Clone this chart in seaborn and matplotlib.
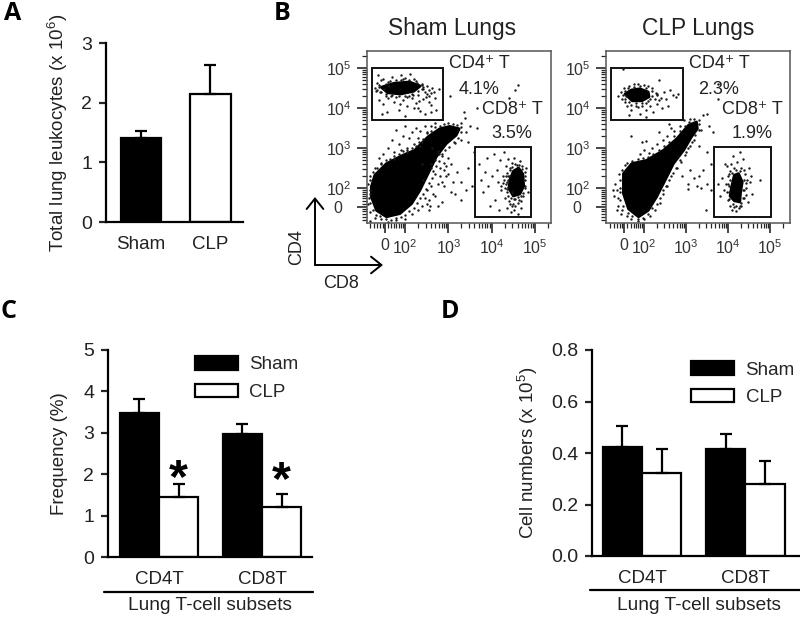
import numpy as np
import pandas as pd
import matplotlib
matplotlib.use("Agg")
import matplotlib.pyplot as plt
from matplotlib.lines import Line2D
from matplotlib.patches import Rectangle, FancyArrowPatch
import seaborn as sns

W, H = 800, 617

# panel A
total_groups = ["Sham", "CLP"]
total_vals = [1.40, 2.14]
total_errs = [0.12, 0.49]

# panels C and D
subsets = ["CD4T", "CD8T"]
freq_sham = [3.47, 2.96]
freq_clp = [1.45, 1.21]
freq_sham_err = [0.34, 0.25]
freq_clp_err = [0.32, 0.32]
star_y = [1.87, 1.82]
num_sham = [0.425, 0.416]
num_clp = [0.321, 0.280]
num_sham_err = [0.081, 0.056]
num_clp_err = [0.095, 0.090]

# flow plots, everything in decades (2 = 10^2 etc)
sham_main_shape = [(1.22, 2.03), (1.30, 2.32), (1.57, 2.61), (1.95, 2.82), (2.22, 2.94), (2.53, 3.28), (2.80, 3.48),
                   (3.03, 3.54), (3.25, 3.48), (3.18, 3.32), (2.95, 3.11), (2.72, 2.78), (2.53, 2.36), (2.34, 1.94),
                   (2.15, 1.61), (1.88, 1.36), (1.57, 1.28), (1.34, 1.44), (1.22, 1.78)]
sham_cd4_shape = [(1.45, 4.52), (1.75, 4.62), (2.1, 4.65), (2.35, 4.55), (2.2, 4.42), (1.9, 4.35), (1.6, 4.38)]
sham_cd8_shape = [(4.42, 2.2), (4.5, 2.42), (4.62, 2.5), (4.72, 2.35), (4.74, 2.05), (4.65, 1.85), (4.5, 1.8), (4.4, 1.98)]
sham_cd4_dots = [(1.3, 4.5), (1.35, 4.62), (1.42, 4.4), (1.5, 4.72), (1.55, 4.3), (1.62, 4.55), (1.7, 4.78), (1.8, 4.28),
                 (1.9, 4.7), (2.0, 4.76), (2.1, 4.3), (2.2, 4.72), (2.3, 4.33), (2.4, 4.6), (2.45, 4.4), (2.5, 4.55),
                 (2.55, 4.3), (2.62, 4.5), (2.7, 4.25), (2.78, 4.48), (1.4, 4.2), (1.5, 4.1), (1.6, 4.25), (1.75, 4.15),
                 (1.85, 3.95), (1.95, 4.2), (2.05, 4.05), (2.15, 4.25), (2.25, 4.12), (2.35, 3.92), (2.42, 4.22),
                 (2.5, 4.35), (2.6, 4.08), (1.38, 4.82), (1.47, 3.85), (1.58, 3.9), (1.9, 4.82), (2.0, 3.8), (2.12, 4.85),
                 (2.3, 4.0), (2.45, 3.85), (2.55, 4.15), (2.72, 3.95), (1.45, 4.7), (1.6, 4.65), (1.88, 4.1), (2.2, 4.0),
                 (2.32, 4.18), (2.6, 3.9), (2.38, 4.48), (2.28, 4.62), (1.33, 4.42), (1.68, 4.3), (2.05, 4.28),
                 (2.18, 4.33), (2.48, 4.27), (1.52, 4.48), (1.4, 4.58), (2.42, 4.52), (2.67, 4.4),
                 (1.35, 4.45), (1.4, 4.52), (1.45, 4.4), (1.55, 4.6), (1.65, 4.68), (1.8, 4.7), (1.95, 4.72), (2.1, 4.7),
                 (2.25, 4.68), (2.38, 4.58), (2.42, 4.48), (2.3, 4.42), (2.15, 4.35), (2.0, 4.3), (1.85, 4.3), (1.7, 4.33),
                 (1.55, 4.35), (2.55, 4.45), (2.6, 4.38)]
sham_cd8_dots = [(3.7, 2.6), (3.75, 2.2), (3.8, 1.9), (3.85, 2.4), (3.9, 2.75), (3.92, 2.05), (3.97, 1.55), (4.0, 2.3),
                 (4.05, 2.85), (4.08, 1.7), (4.12, 2.45), (4.15, 2.15), (4.18, 1.45), (4.2, 2.7), (4.22, 1.95), (4.25, 2.3),
                 (4.28, 2.9), (4.3, 1.75), (4.32, 2.55), (4.33, 2.1), (4.35, 1.5), (4.37, 2.2), (4.38, 2.72), (4.4, 1.68),
                 (4.42, 2.5), (4.44, 1.4), (4.46, 1.9), (4.48, 2.62), (4.5, 1.6), (4.52, 2.75), (4.55, 1.72), (4.58, 2.58),
                 (4.6, 1.35), (4.62, 1.7), (4.65, 2.68), (4.68, 1.5), (4.7, 2.55), (4.72, 1.8), (4.76, 2.3), (4.78, 2.0),
                 (4.8, 2.5), (4.83, 1.9), (4.32, 2.3), (4.3, 2.0), (4.36, 1.9), (4.35, 2.38), (4.4, 2.3), (4.38, 2.02),
                 (4.36, 2.15), (4.38, 2.3), (4.42, 2.45), (4.47, 2.52), (4.55, 2.6), (4.62, 2.58), (4.7, 2.48), (4.76, 2.4),
                 (4.78, 2.2), (4.78, 2.05), (4.72, 1.88), (4.68, 1.8), (4.6, 1.78), (4.52, 1.72), (4.45, 1.75), (4.38, 1.8),
                 (4.35, 1.98), (4.28, 2.2), (4.25, 2.12), (4.22, 2.05), (4.6, 1.62), (4.55, 1.55), (4.48, 1.55), (4.52, 1.45),
                 (4.68, 1.68), (4.42, 1.6)]
sham_main_dots = [(1.6, 3.0), (1.7, 3.2), (1.75, 2.9), (1.8, 3.45), (1.85, 3.1), (1.9, 2.95), (1.95, 3.3), (2.0, 3.55),
                  (2.05, 3.0), (2.1, 3.25), (2.15, 3.4), (2.2, 3.1), (2.25, 3.5), (2.3, 3.25), (2.35, 3.42), (2.4, 3.15),
                  (2.45, 3.55), (2.5, 3.4), (2.6, 3.55), (2.7, 3.62), (1.4, 2.75), (1.5, 2.85), (1.3, 2.5), (1.2, 2.3),
                  (1.45, 2.62), (1.75, 2.72), (2.05, 2.9), (2.35, 3.05), (2.62, 3.0), (2.75, 2.92), (2.85, 2.8), (2.9, 2.62),
                  (2.8, 2.5), (2.7, 2.35), (2.95, 2.3), (3.05, 2.6), (3.2, 2.4), (3.3, 2.15), (3.4, 1.95), (2.6, 2.05),
                  (2.75, 2.1), (2.9, 2.05), (3.05, 1.9), (3.15, 1.85), (3.3, 1.7), (2.45, 1.75), (2.55, 1.7), (2.7, 1.8),
                  (2.85, 1.65), (2.4, 1.55), (2.6, 2.5), (2.7, 2.7), (2.3, 1.45), (2.15, 1.35), (2.0, 1.22), (1.8, 1.2),
                  (1.6, 1.15), (1.45, 1.22), (1.3, 1.25), (1.2, 1.4), (1.15, 1.6), (1.18, 1.85), (1.15, 2.1), (1.2, 1.18),
                  (3.15, 3.12), (3.3, 3.2), (3.4, 3.4), (3.5, 3.55), (3.65, 3.5), (3.3, 3.62), (3.38, 3.75), (3.45, 3.15),
                  (3.03, 4.3), (3.65, 4.0), (4.4, 4.25), (4.6, 4.57), (4.55, 4.45), (3.35, 3.9), (3.6, 2.9), (3.55, 2.05),
                  (3.45, 2.5), (3.0, 2.75), (3.1, 2.15), (2.55, 1.45), (2.9, 2.45), (2.4, 2.6), (2.42, 2.2), (2.5, 1.95),
                  (1.2, 2.2), (1.25, 2.4), (1.35, 2.5), (1.45, 2.6), (1.55, 2.7), (1.65, 2.72), (1.75, 2.8), (1.85, 2.85),
                  (1.95, 2.92), (2.05, 2.95), (2.15, 3.0), (2.25, 3.05), (2.32, 3.15), (2.42, 3.22), (2.5, 3.38), (2.6, 3.42),
                  (2.7, 3.52), (2.8, 3.56), (2.9, 3.6), (3.0, 3.62), (3.1, 3.6), (3.2, 3.58), (3.28, 3.52), (3.3, 3.4),
                  (3.22, 3.25), (3.12, 3.15), (3.02, 3.02), (2.92, 2.95), (2.85, 2.85), (2.78, 2.68), (2.72, 2.55),
                  (2.65, 2.42), (2.62, 2.25), (2.55, 2.12), (2.48, 1.98), (2.42, 1.85), (2.35, 1.75), (2.28, 1.62),
                  (2.2, 1.5), (2.1, 1.42), (2.0, 1.32), (1.9, 1.27), (1.78, 1.24), (1.68, 1.2), (1.55, 1.22), (1.42, 1.3),
                  (1.33, 1.33), (1.25, 1.45), (1.2, 1.62), (1.17, 1.75), (1.2, 1.95), (2.6, 2.6), (2.8, 2.3), (2.85, 2.15),
                  (2.5, 1.6), (2.65, 1.85), (2.58, 1.55), (2.75, 1.55), (2.95, 2.55), (3.0, 2.35), (2.78, 2.85)]

clp_main_shape = [(1.51, 2.36), (1.71, 2.61), (2.06, 2.69), (2.46, 2.94), (2.78, 3.23), (3.06, 3.57), (3.25, 3.65),
                  (3.27, 3.48), (3.13, 3.28), (2.94, 2.94), (2.70, 2.61), (2.5, 2.19), (2.30, 1.78), (2.10, 1.44),
                  (1.87, 1.28), (1.63, 1.48), (1.51, 1.86)]
clp_cd4_shape = [(1.55, 4.35), (1.7, 4.45), (1.9, 4.48), (2.1, 4.4), (2.12, 4.28), (1.95, 4.18), (1.72, 4.18)]
clp_cd8_shape = [(4.08, 2.0), (4.15, 2.32), (4.25, 2.36), (4.34, 2.15), (4.3, 1.9), (4.28, 1.65), (4.15, 1.68), (4.05, 1.8)]
clp_cd4_dots = [(1.45, 4.4), (1.48, 4.22), (1.52, 4.5), (1.55, 4.15), (1.6, 4.05), (1.65, 4.55), (1.7, 3.95), (1.75, 4.6),
                (1.8, 4.05), (1.85, 4.6), (1.9, 3.85), (1.95, 4.05), (2.0, 4.58), (2.05, 3.95), (2.1, 4.55), (2.15, 4.05),
                (2.2, 4.5), (2.22, 3.9), (2.28, 4.38), (2.3, 4.1), (2.35, 4.7), (2.4, 4.25), (2.42, 4.0), (2.48, 4.4),
                (2.52, 4.22), (2.58, 4.05), (2.62, 4.45), (2.68, 4.32), (2.75, 4.28), (2.82, 4.35), (1.65, 3.82), (1.38, 4.3),
                (1.5, 4.97), (2.05, 3.78), (2.25, 4.22), (2.15, 4.22), (1.58, 4.3), (2.3, 4.35),
                (1.5, 4.32), (1.55, 4.42), (1.62, 4.5), (1.75, 4.52), (1.9, 4.54), (2.05, 4.5), (2.18, 4.42), (2.2, 4.3),
                (2.1, 4.18), (1.95, 4.12), (1.8, 4.12), (1.65, 4.15), (1.55, 4.22), (2.3, 4.32), (2.35, 4.2), (1.7, 4.08),
                (1.85, 4.02), (2.05, 4.12)]
clp_cd8_dots = [(3.75, 2.1), (3.8, 1.8), (3.85, 2.25), (3.9, 1.95), (3.92, 2.6), (3.97, 2.55), (4.0, 1.7), (4.0, 2.1),
                (4.03, 2.35), (4.05, 1.55), (4.08, 2.6), (4.1, 1.45), (4.12, 2.8), (4.15, 2.5), (4.18, 1.42), (4.22, 2.65),
                (4.25, 1.5), (4.28, 2.9), (4.3, 2.5), (4.32, 1.55), (4.35, 2.72), (4.38, 1.75), (4.4, 2.35), (4.42, 2.0),
                (4.45, 2.2), (4.48, 1.65), (4.5, 2.5), (4.52, 2.15), (4.55, 2.3), (4.58, 1.85), (4.75, 2.2), (4.02, 1.9),
                (4.38, 2.45), (4.0, 2.3), (4.36, 1.95), (4.05, 2.42),
                (4.02, 2.05), (4.05, 2.2), (4.1, 2.38), (4.18, 2.45), (4.28, 2.42), (4.38, 2.2), (4.42, 2.12), (4.38, 1.95),
                (4.35, 1.75), (4.3, 1.62), (4.2, 1.55), (4.12, 1.6), (4.02, 1.72), (3.98, 1.9), (4.15, 1.52), (4.28, 1.55),
                (4.42, 1.82), (3.95, 2.1)]
clp_main_dots = [(1.9, 2.85), (2.0, 2.95), (2.05, 3.18), (1.95, 3.15), (2.12, 2.88), (2.2, 3.0), (2.3, 3.1), (2.45, 3.2),
                 (2.55, 3.3), (2.65, 3.5), (2.35, 3.4), (2.6, 3.6), (2.72, 3.42), (2.85, 3.55), (2.95, 3.7), (3.1, 3.72),
                 (1.4, 2.35), (1.32, 2.1), (1.28, 1.8), (1.38, 1.55), (1.45, 1.35), (1.42, 2.0), (1.35, 1.45), (1.25, 1.95),
                 (1.55, 2.58), (1.6, 1.3), (1.7, 1.22), (1.85, 1.18), (2.0, 1.22), (2.15, 1.3), (2.25, 1.45), (2.38, 1.62),
                 (2.45, 1.85), (2.55, 2.05), (2.65, 2.3), (2.75, 2.5), (2.85, 2.7), (3.0, 2.9), (3.1, 3.05), (3.2, 3.2),
                 (3.35, 3.45), (3.3, 3.7), (3.4, 3.82), (3.5, 3.85), (3.55, 3.55), (3.65, 3.4), (3.3, 3.05), (3.5, 2.9),
                 (3.6, 2.6), (3.1, 2.45), (3.3, 2.3), (3.2, 2.25), (3.05, 2.1), (3.4, 2.45), (3.25, 2.05), (3.35, 2.0),
                 (3.05, 1.98), (3.5, 2.1), (3.6, 1.95), (3.48, 1.45), (3.75, 4.22), (3.75, 4.6), (1.7, 3.3), (2.9, 2.3),
                 (1.42, 2.2), (1.48, 2.45), (1.6, 2.62), (1.72, 2.68), (1.85, 2.72), (1.98, 2.75), (2.1, 2.78), (2.22, 2.85),
                 (2.35, 2.95), (2.48, 3.05), (2.6, 3.15), (2.72, 3.3), (2.85, 3.42), (2.98, 3.55), (3.08, 3.65), (3.18, 3.72),
                 (3.3, 3.6), (3.32, 3.45), (3.22, 3.32), (3.15, 3.15), (3.05, 3.0), (2.98, 2.82), (2.88, 2.65), (2.78, 2.5),
                 (2.68, 2.38), (2.6, 2.2), (2.52, 2.05), (2.45, 1.95), (2.38, 1.75), (2.3, 1.6), (2.2, 1.5), (2.1, 1.35),
                 (1.98, 1.25), (1.85, 1.22), (1.72, 1.3), (1.62, 1.38), (1.5, 1.55), (1.44, 1.7), (1.42, 1.9), (1.48, 1.45),
                 (1.38, 1.75), (1.35, 1.95)]

sns.set_style("ticks")
plt.rcParams["font.family"] = ["Liberation Sans", "DejaVu Sans"]
plt.rcParams["mathtext.fontset"] = "custom"
plt.rcParams["mathtext.rm"] = "Liberation Sans"
plt.rcParams["mathtext.default"] = "rm"
text_col = "#222222"

fig = plt.figure(figsize=(W / 100, H / 100), dpi=100)


def px_axes(left, top, right, bottom):
    return fig.add_axes([left / W, 1 - bottom / H, (right - left) / W, (bottom - top) / H])


def fig_text(x, y, s, **kw):
    kw.setdefault("ha", "center")
    kw.setdefault("va", "center")
    kw.setdefault("color", text_col)
    fig.text(x / W, 1 - y / H, s, **kw)


def fig_line(xs, ys, **kw):
    fig.add_artist(Line2D([x / W for x in xs], [1 - y / H for y in ys], color="black", **kw))


def style_bars(ax, ylim, yticks, yfmt, ylabel, pad):
    ax.set_ylim(*ylim)
    ax.set_yticks(yticks, [yfmt % v for v in yticks])
    ax.set_xlabel("")
    ax.set_ylabel(ylabel, fontsize=13.5, color=text_col, labelpad=pad)
    ax.tick_params(axis="y", length=5, width=1.6, labelsize=14, labelcolor=text_col, pad=5)
    ax.tick_params(axis="x", length=0, labelsize=13.5, labelcolor=text_col, pad=10)
    ax.patch.set_alpha(0)
    for side in ["left", "bottom"]:
        ax.spines[side].set_linewidth(1.6)
        ax.spines[side].set_color("black")
    sns.despine(ax=ax)


def add_errs(ax, errs):
    for cont, err in zip(ax.containers, errs):
        for p, e in zip(cont, err):
            ax.errorbar(p.get_x() + p.get_width() / 2, p.get_height(), yerr=[[0], [e]], color="black",
                        elinewidth=1.6, capsize=4.6, capthick=1.6, zorder=1)


def grouped(ax_box, xlim, sham, clp, sham_err, clp_err, ylim, yticks, yfmt, ylabel, legend_at, pad):
    ax = px_axes(*ax_box)
    df = pd.DataFrame({"subset": subsets * 2, "group": ["Sham"] * 2 + ["CLP"] * 2, "value": sham + clp})
    sns.barplot(data=df, x="subset", y="value", hue="group", hue_order=["Sham", "CLP"],
                palette={"Sham": "black", "CLP": "white"}, edgecolor="black", linewidth=1.6,
                width=0.76, gap=0, errorbar=None, ax=ax)
    add_errs(ax, [sham_err, clp_err])
    ax.set_xlim(*xlim)
    style_bars(ax, ylim, yticks, yfmt, ylabel, pad)
    sns.move_legend(ax, "upper left", bbox_to_anchor=legend_at, title=None, frameon=False, fontsize=13.5,
                    handlelength=2.3, handleheight=0.72, labelspacing=0.55, handletextpad=0.62,
                    borderpad=0, borderaxespad=0)
    return ax


def flow(ax_box, xlim, main_shape, cd4_shape, cd8_shape, dots, gate4, gate8):
    ax = px_axes(*ax_box)
    ax.set_xlim(*xlim)
    ax.set_ylim(1.125, 5.425)
    for shape in [main_shape, cd4_shape, cd8_shape]:
        ax.fill(*zip(*shape), color="black", lw=2, joinstyle="round", zorder=2)
    d = pd.DataFrame(dots, columns=["x", "y"])
    sns.scatterplot(data=d, x="x", y="y", s=3, color="#1a1a1a", linewidth=0, ax=ax, zorder=2)
    for (x0, x1, y0, y1) in [gate4, gate8]:
        ax.add_patch(Rectangle((x0, y0), x1 - x0, y1 - y0, fill=False, ec="#111111", lw=1.4, zorder=3))
    ax.set_xlabel("")
    ax.set_ylabel("")
    maj = [1.53, 2, 3, 4, 5]
    ax.set_xticks(maj, ["0", "$10^2$", "$10^3$", "$10^4$", "$10^5$"])
    ax.set_yticks(maj, ["0  ", "$10^2$", "$10^3$", "$10^4$", "$10^5$"])
    minor = [d0 + np.log10(k) for d0 in [2, 3, 4] for k in range(2, 10)]
    low = [1.2, 1.28, 1.35, 1.42, 1.48, 1.6, 1.68, 1.75, 1.8, 1.85, 1.9, 1.95]
    ax.set_xticks(low + minor + [5.3], minor=True)
    ax.set_yticks(low + minor + [5.3], minor=True)
    ax.tick_params(which="major", length=7, width=1.2, labelsize=11.5, labelcolor="#333333", pad=4)
    ax.tick_params(which="minor", length=3.5, width=0.9)
    for s in ax.spines.values():
        s.set_linewidth(1.1)
        s.set_color("#555555")
    return ax


# A
ax_a = px_axes(106, 43, 243, 222)
sns.barplot(x=total_groups, y=total_vals, hue=total_groups, palette={"Sham": "black", "CLP": "white"},
            edgecolor="black", linewidth=1.6, width=0.58, legend=False, errorbar=None, ax=ax_a)
add_errs(ax_a, [[total_errs[0]], [total_errs[1]]])
ax_a.set_xlim(-0.504, 1.468)
style_bars(ax_a, (0, 3), [0, 1, 2, 3], "%d", "Total lung leukocytes (x 10$^6$)", 8)

# C
ax_c = grouped((108, 350, 312, 557), (-0.495, 1.485), freq_sham, freq_clp, freq_sham_err, freq_clp_err,
               (0, 5), [0, 1, 2, 3, 4, 5], "%d", "Frequency (%)", (0.425, 0.97), 11)
for i, v in enumerate(star_y):
    ax_c.text(i + 0.19, v, "*", fontsize=35, fontweight="bold", ha="center", va="center", color="black")
fig_line([104, 313], [592, 592], lw=1.6)
fig_text(210, 606, "Lung T-cell subsets", fontsize=13.8)

# D
ax_d = grouped((592, 350, 800, 556), (-0.485, 1.53), num_sham, num_clp, num_sham_err, num_clp_err,
               (0, 0.8), [0, 0.2, 0.4, 0.6, 0.8], "%.1f", "Cell numbers (x 10$^5$)", (0.475, 0.945), 8)
fig_line([590, 800], [590, 590], lw=1.6)
fig_text(699, 606, "Lung T-cell subsets", fontsize=13.8)

# B
flow((367, 51, 551, 223), (1.12, 5.37), sham_main_shape, sham_cd4_shape, sham_cd8_shape,
     sham_cd4_dots + sham_cd8_dots + sham_main_dots, (1.23, 2.88, 3.69, 5.0), (3.62, 4.9, 1.27, 3.02))
flow((606, 51, 790, 223), (1.095, 5.476), clp_main_shape, clp_cd4_shape, clp_cd8_shape,
     clp_cd4_dots + clp_cd8_dots + clp_main_dots, (1.21, 2.92, 3.69, 5.0), (3.67, 5.02, 1.27, 3.02))

fig_text(452, 29, "Sham Lungs", fontsize=16.4)
fig_text(698, 29, "CLP Lungs", fontsize=16.4)
fig_text(479, 64, "CD4\u207a T", fontsize=13)
fig_text(479, 89, "4.1%", fontsize=13)
fig_text(512, 110, "CD8\u207a T", fontsize=13)
fig_text(512, 134, "3.5%", fontsize=13)
fig_text(719, 64, "CD4\u207a T", fontsize=13)
fig_text(719, 89, "2.3%", fontsize=13)
fig_text(752, 110, "CD8\u207a T", fontsize=13)
fig_text(752, 134, "1.9%", fontsize=13)

fig_text(297, 247, "CD4", fontsize=13, rotation=90)
fig_text(341, 283, "CD8", fontsize=13)
for start, end in [((315, 265), (315, 197)), ((315, 265), (383, 265))]:
    fig.add_artist(FancyArrowPatch((start[0] / W, 1 - start[1] / H), (end[0] / W, 1 - end[1] / H),
                                   transform=fig.transFigure, arrowstyle="->,head_length=5,head_width=4",
                                   lw=1.4, color="black", mutation_scale=1.5, shrinkA=0, shrinkB=0))

for x, y, s in [(13, 14, "A"), (282, 14, "B"), (9, 312, "C"), (450, 311, "D")]:
    fig_text(x, y, s, fontsize=18, fontweight="bold", color="black", family="Open Sans")

fig.savefig("out.png", dpi=100)
